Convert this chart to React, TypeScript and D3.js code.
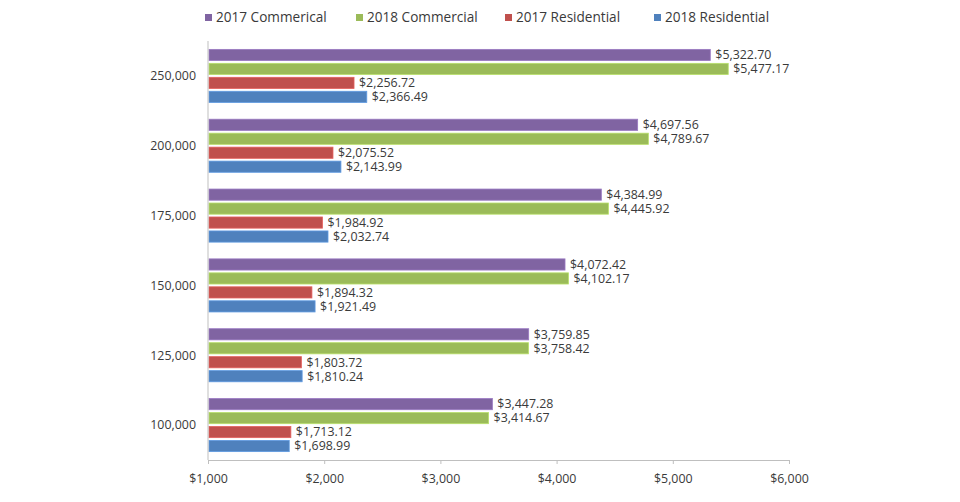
import React from "react";
import * as d3 from "d3";

// price bands (y categories), top to bottom
const categories = ["250,000", "200,000", "175,000", "150,000", "125,000", "100,000"];

const seriesNames = ["2017 Commerical", "2018 Commercial", "2017 Residential", "2018 Residential"];
const seriesColors = ["#8064A2", "#9BBB59", "#C0504D", "#4F81BD"];

// values per category, same order as categories
const commercial2017 = [5322.7, 4697.56, 4384.99, 4072.42, 3759.85, 3447.28];
const commercial2018 = [5477.17, 4789.67, 4445.92, 4102.17, 3758.42, 3414.67];
const residential2017 = [2256.72, 2075.52, 1984.92, 1894.32, 1803.72, 1713.12];
const residential2018 = [2366.49, 2143.99, 2032.74, 1921.49, 1810.24, 1698.99];

const xTicks = [1000, 2000, 3000, 4000, 5000, 6000];

const series = [commercial2017, commercial2018, residential2017, residential2018];

const App: React.FC = () => {
  const width = 960;
  const height = 502;
  const margin = { top: 41, right: 171, bottom: 42, left: 208 };
  const font = "'Open Sans', sans-serif";
  const textColor = "#3a3a3a";
  const axisColor = "#bfbfbf";

  const x = d3
    .scaleLinear()
    .domain([1000, 6000])
    .range([margin.left, width - margin.right]);

  const y = d3
    .scaleBand<string>()
    .domain(categories)
    .range([margin.top, height - margin.bottom])
    .paddingInner(0.2)
    .paddingOuter(0.1);

  const ySub = d3
    .scaleBand<number>()
    .domain(d3.range(series.length))
    .range([0, y.bandwidth()])
    .paddingInner(0.2)
    .paddingOuter(0.1);

  const fmt = d3.format("$,.2f");
  const tickFmt = d3.format("$,");

  // legend x positions
  const legendX = [205, 356, 505, 654];

  return (
    <svg
      width={width}
      height={height}
      style={{ position: "absolute", left: 0, top: 0, background: "#fff" }}
      fontFamily={font}
    >
      {/* legend */}
      <g>
        {seriesNames.map((name, i) => (
          <g key={name} transform={`translate(${legendX[i]},14)`}>
            <rect width={7} height={7} fill={seriesColors[i]} />
            <text x={11} y={3.5} dy="0.35em" fontSize={13.6} fill={textColor}>
              {name}
            </text>
          </g>
        ))}
      </g>

      {/* bars */}
      {categories.map((cat, ci) => (
        <g key={cat} transform={`translate(0,${y(cat)})`}>
          {series.map((vals, si) => {
            const v = vals[ci];
            const by = ySub(si) as number;
            return (
              <g key={si}>
                <rect
                  x={x(1000) + 1}
                  y={by}
                  width={x(v) - x(1000) - 1}
                  height={ySub.bandwidth()}
                  fill={seriesColors[si]}
                  stroke={d3.color(seriesColors[si])!.brighter(0.5).formatHex()}
                  strokeWidth={0.8}
                />
                <text
                  x={x(v) + 5}
                  y={by + ySub.bandwidth() / 2}
                  dy="0.35em"
                  fontSize={12.4}
                  fill={textColor}
                >
                  {fmt(v)}
                </text>
              </g>
            );
          })}
          <text
            x={margin.left - 12}
            y={y.bandwidth() / 2}
            dy="0.35em"
            textAnchor="end"
            fontSize={12.4}
            fill={textColor}
          >
            {cat}
          </text>
        </g>
      ))}

      {/* axes */}
      <line
        x1={margin.left}
        x2={margin.left}
        y1={margin.top}
        y2={height - margin.bottom}
        stroke={axisColor}
      />
      <line
        x1={margin.left}
        x2={width - margin.right}
        y1={height - margin.bottom + 0.5}
        y2={height - margin.bottom + 0.5}
        stroke={axisColor}
      />
      {xTicks.map(t => (
        <g key={t} transform={`translate(${x(t) + 0.5},${height - margin.bottom})`}>
          <line y1={0} y2={4} stroke={axisColor} />
          <text y={19} dy="0.35em" textAnchor="middle" fontSize={12.4} fill={textColor}>
            {tickFmt(t)}
          </text>
        </g>
      ))}
    </svg>
  );
};

export default App;
